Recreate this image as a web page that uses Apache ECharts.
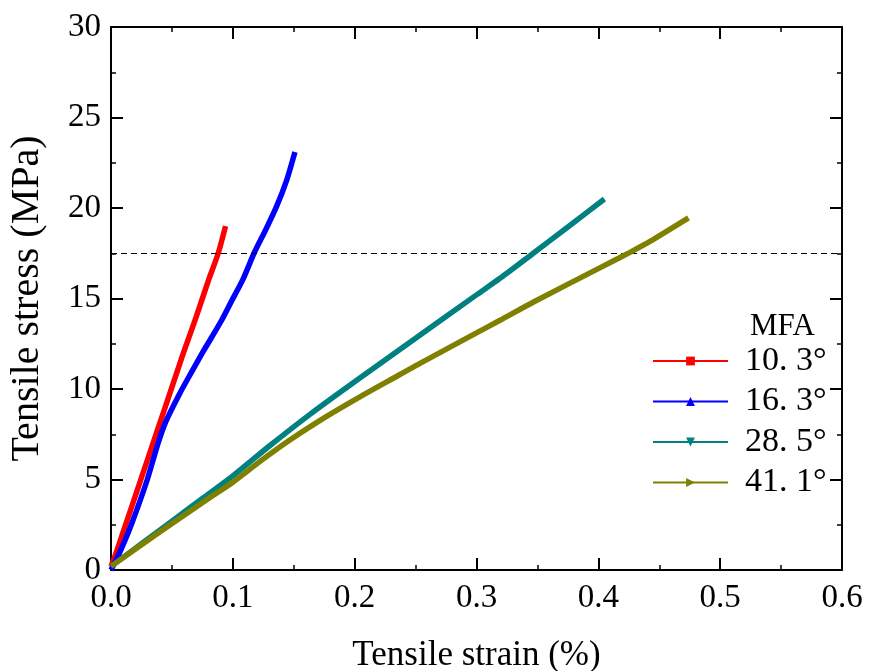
<!DOCTYPE html>
<html>
<head>
<meta charset="utf-8">
<script src="https://cdn.jsdelivr.net/npm/echarts@6/dist/echarts.min.js"></script>
<style>html,body{margin:0;padding:0;background:#fff}#c{width:880px;height:671px}</style>
</head>
<body>
<div id="c"></div>
<script>
const seriesNames = ['10. 3°', '16. 3°', '28. 5°', '41. 1°'];
const seriesColors = ['#ff0000', '#0000ff', '#008080', '#808000'];
const red103 = [[0,0.2],[0.005,1.1],[0.01,2.1],[0.02,4.1],[0.03,6.1],[0.04,8.1],[0.05,10.1],[0.06,12.1],[0.07,14.0],[0.08,16.0],[0.088,17.5],[0.094,19.0]];
const blue163 = [[0,0.0],[0.008,1.1],[0.0172,2.6],[0.0298,5.0],[0.0386,7.0],[0.045,8.2],[0.056,9.7],[0.065,10.8],[0.075,12.0],[0.083,12.9],[0.0908,13.8],[0.0985,14.8],[0.1086,16.1],[0.1174,17.5],[0.127,18.8],[0.136,20.1],[0.144,21.5],[0.151,23.1]];
const teal285 = [[0,0.2],[0.025,1.45],[0.05,2.7],[0.075,3.95],[0.1,5.2],[0.13,6.85],[0.1633,8.6],[0.2,10.4],[0.25,12.8],[0.3,15.2],[0.319,16.1],[0.3466,17.5],[0.375,18.95],[0.405,20.5]];
const olive411 = [[0,0.2],[0.04,2.1],[0.0813,4.0],[0.1,4.85],[0.1223,6.0],[0.145,7.1],[0.17,8.2],[0.2,9.4],[0.2372,10.8],[0.2536,11.42],[0.3,13.1],[0.3193,13.8],[0.348,14.85],[0.4,16.65],[0.426,17.55],[0.4424,18.15],[0.474,19.45]];
const refLineY = 17.5;
const xTicks = {min: 0, max: 0.6, interval: 0.1};
const yTicks = {min: 0, max: 30, interval: 5};

const font = 'Liberation Serif';
const chart = echarts.init(document.getElementById('c'), null, {renderer: 'canvas'});
const axisLine = {show: true, onZero: false, lineStyle: {color: '#000', width: 2}};
const tick = {show: true, inside: true, length: 12, lineStyle: {color: '#000', width: 2}};
const minor = {show: true, splitNumber: 2, length: 5, lineStyle: {color: '#000', width: 1.5}};
const datas = [red103, blue163, teal285, olive411];
const symbols = ['rect', 'triangle', 'triangle', 'triangle'];
const rots = [0, 0, 180, -90];
const series = datas.map((d, i) => ({
  name: seriesNames[i], type: 'line', data: d, showSymbol: false, smooth: 0.25,
  symbol: symbols[i], symbolSize: 9, symbolRotate: rots[i],
  lineStyle: {color: seriesColors[i], width: 5.5}, itemStyle: {color: seriesColors[i]},
  z: 3 + i, silent: true, animation: false
}));
series[3].markLine = {
  silent: true, symbol: 'none', label: {show: false},
  lineStyle: {color: '#000', type: [6, 4], width: 1},
  data: [{yAxis: refLineY}]
};
chart.setOption({
  animation: false,
  backgroundColor: '#fff',
  grid: {left: 111, right: 38, top: 27, bottom: 101, containLabel: false, outerBoundsMode: 'none'},
  title: {text: 'MFA', left: 745, top: 306, textStyle: {fontFamily: font, fontSize: 31, fontWeight: 'normal', color: '#000'}},
  legend: {
    orient: 'vertical', left: 652, top: 341, padding: 0, itemGap: 0.5,
    itemWidth: 75, itemHeight: 11,
    textStyle: {fontFamily: font, fontSize: 34, color: '#000', lineHeight: 40, padding: [0, 0, 0, 12]},
    data: seriesNames
  },
  xAxis: [{
    type: 'value', position: 'bottom', min: xTicks.min, max: xTicks.max, interval: xTicks.interval,
    name: 'Tensile strain (%)', nameLocation: 'middle', nameGap: 68,
    nameTextStyle: {fontFamily: font, fontSize: 35, color: '#000'},
    axisLine, axisTick: tick, minorTick: minor, splitLine: {show: false},
    axisLabel: {fontFamily: font, fontSize: 33, color: '#000', margin: 12, formatter: v => v.toFixed(1)}
  }, {
    type: 'value', position: 'top', min: xTicks.min, max: xTicks.max, interval: xTicks.interval,
    axisLine, axisTick: tick, minorTick: minor, splitLine: {show: false}, axisLabel: {show: false}
  }],
  yAxis: [{
    type: 'value', position: 'left', min: yTicks.min, max: yTicks.max, interval: yTicks.interval,
    name: 'Tensile stress (MPa)', nameLocation: 'middle', nameGap: 64, nameRotate: 90,
    nameTextStyle: {fontFamily: font, fontSize: 40, color: '#000'},
    axisLine, axisTick: tick, minorTick: minor, splitLine: {show: false},
    axisLabel: {fontFamily: font, fontSize: 33, color: '#000', margin: 10}
  }, {
    type: 'value', position: 'right', min: yTicks.min, max: yTicks.max, interval: yTicks.interval,
    axisLine, axisTick: tick, minorTick: minor, splitLine: {show: false}, axisLabel: {show: false}
  }],
  series
});
</script>
</body>
</html>
